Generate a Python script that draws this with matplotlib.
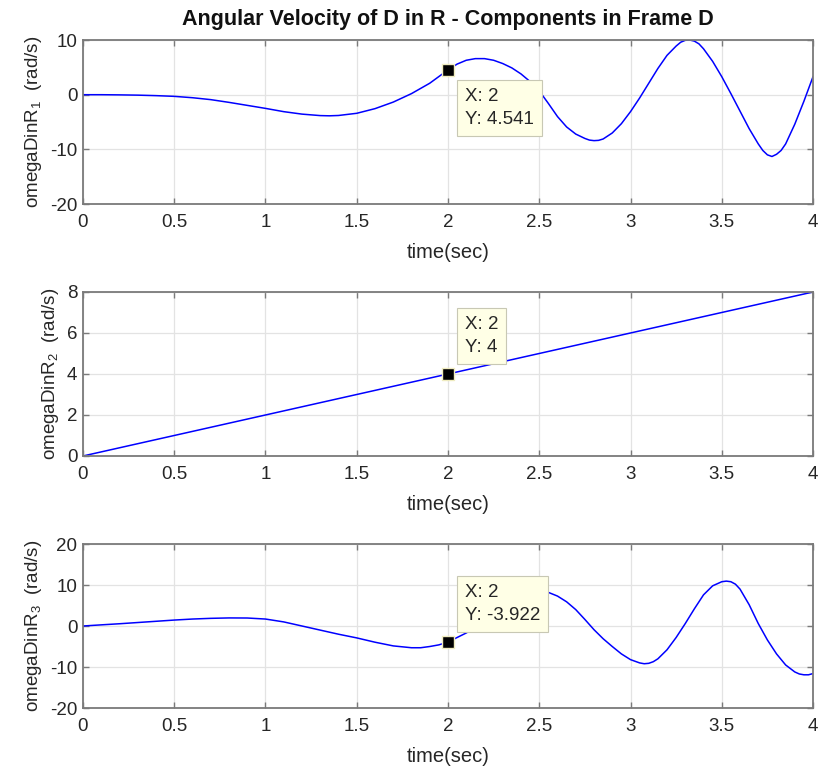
import matplotlib

matplotlib.use("Agg")

import matplotlib.pyplot as plt

plt.rcParams["font.family"] = ["Liberation Sans", "DejaVu Sans"]
plt.rcParams["axes.unicode_minus"] = False
plt.rcParams["mathtext.fontset"] = "custom"
plt.rcParams["mathtext.rm"] = "Liberation Sans"
plt.rcParams["mathtext.it"] = "Liberation Sans"

# time samples (s)
t1 = [0.0, 0.1, 0.2, 0.3, 0.4, 0.5, 0.6, 0.7, 0.8, 0.9, 1.0, 1.1, 1.2, 1.3, 1.35,
      1.4, 1.5, 1.6, 1.7, 1.8, 1.9, 2.0, 2.05, 2.1, 2.15, 2.2, 2.25, 2.3, 2.35,
      2.4, 2.45, 2.5, 2.55, 2.6, 2.65, 2.7, 2.75, 2.775, 2.8, 2.825, 2.85, 2.9,
      2.95, 3.0, 3.05, 3.1, 3.15, 3.2, 3.25, 3.275, 3.3, 3.325, 3.35, 3.375,
      3.4, 3.45, 3.5, 3.55, 3.6, 3.65, 3.7, 3.725, 3.75, 3.775, 3.8, 3.825,
      3.85, 3.9, 3.95, 4.0]
omega1 = [0.0, 0.0, -0.03, -0.08, -0.17, -0.3, -0.55, -0.9, -1.4, -1.95, -2.5,
          -3.1, -3.55, -3.82, -3.86, -3.8, -3.4, -2.55, -1.35, 0.2, 2.1, 4.541,
          5.6, 6.3, 6.6, 6.6, 6.3, 5.7, 4.9, 3.8, 2.4, 0.7, -1.6, -4.0, -5.9,
          -7.2, -8.0, -8.3, -8.4, -8.35, -8.1, -7.0, -5.3, -3.1, -0.6, 2.1, 4.8,
          7.2, 8.9, 9.6, 9.95, 10.0, 9.8, 9.3, 8.4, 6.1, 3.3, 0.2, -3.0, -6.2,
          -9.0, -10.2, -11.0, -11.3, -10.9, -10.2, -9.0, -5.4, -1.2, 3.3]

t2 = [0.0, 4.0]
omega2 = [0.0, 8.0]

t3 = [0.0, 0.1, 0.2, 0.3, 0.4, 0.5, 0.6, 0.7, 0.8, 0.9, 1.0, 1.1, 1.2, 1.3,
      1.4, 1.5, 1.6, 1.7, 1.8, 1.85, 1.9, 1.95, 2.0, 2.05, 2.1, 2.15, 2.2,
      2.25, 2.3, 2.35, 2.4, 2.45, 2.5, 2.55, 2.6, 2.65, 2.7, 2.75, 2.8, 2.85,
      2.9, 2.95, 3.0, 3.05, 3.075, 3.1, 3.125, 3.15, 3.2, 3.25, 3.3, 3.35, 3.4,
      3.45, 3.5, 3.525, 3.55, 3.575, 3.6, 3.65, 3.7, 3.75, 3.8, 3.85, 3.9,
      3.925, 3.95, 3.975, 4.0]
omega3 = [0.0, 0.28, 0.55, 0.85, 1.15, 1.45, 1.7, 1.87, 1.97, 1.95, 1.7, 1.0,
          0.0, -1.0, -2.0, -2.9, -3.95, -4.85, -5.3, -5.3, -5.0, -4.6, -3.922,
          -2.8, -1.7, -0.4, 1.0, 2.5, 3.9, 5.2, 6.4, 7.5, 8.2, 8.2, 7.3, 5.9,
          4.0, 1.6, -0.9, -3.1, -5.0, -6.8, -8.2, -9.0, -9.2, -9.1, -8.7, -8.0,
          -5.8, -2.8, 0.6, 4.2, 7.6, 9.8, 10.8, 10.95, 10.8, 10.2, 9.0, 5.2,
          0.6, -3.4, -6.8, -9.5, -11.2, -11.7, -11.9, -11.9, -11.6]

series = [(t1, omega1), (t2, omega2), (t3, omega3)]
y_limits = [(-20, 10), (0, 8), (-20, 20)]
y_ticks = [[-20, -10, 0, 10], [0, 2, 4, 6, 8], [-20, -10, 0, 10, 20]]
y_labels = ["omegaDinR$_{1}$  (rad/s)", "omegaDinR$_{2}$  (rad/s)",
            "omegaDinR$_{3}$  (rad/s)"]
x_ticks = [0, 0.5, 1, 1.5, 2, 2.5, 3, 3.5, 4]
x_tick_labels = ["0", "0.5", "1", "1.5", "2", "2.5", "3", "3.5", "4"]
tip_x = 2
tip_y = [4.541, 4, -3.922]
tip_text = ["X: 2\nY: 4.541", "X: 2\nY: 4", "X: 2\nY: -3.922"]
# text offsets of the datatips (pixels) and their anchor side
tip_offset = [(17, -18, "top"), (17, 18, "bottom"), (17, 18, "bottom")]

figure = plt.figure(figsize=(8.19, 7.70), dpi=100)
rects = [
    (0.1013, 0.735, 0.8914, 0.213),
    (0.1013, 0.4078, 0.8914, 0.213),
    (0.1013, 0.0805, 0.8914, 0.213),
]
frame_color = "#7a7a7a"

for index, rect in enumerate(rects):
    axis = figure.add_axes(rect)
    t_values, y_values = series[index]
    axis.plot(t_values, y_values, color="#0000ff", linewidth=1.1)
    axis.set_xlim(0, 4)
    axis.set_ylim(*y_limits[index])
    axis.set_xticks(x_ticks)
    axis.set_xticklabels(x_tick_labels)
    axis.set_yticks(y_ticks[index])
    axis.grid(True, color="#e3e3e3", linewidth=0.9)
    axis.set_axisbelow(True)
    axis.tick_params(
        direction="in", top=True, right=True, length=4, width=1,
        color=frame_color, labelsize=13.5, labelcolor="#262626",
    )
    axis.tick_params(axis="x", pad=7)
    axis.tick_params(axis="y", pad=4)
    for spine in axis.spines.values():
        spine.set_color(frame_color)
        spine.set_linewidth(1.3)
    axis.set_xlabel("time(sec)", fontsize=14.5, color="#262626", labelpad=9)
    axis.set_ylabel(y_labels[index], fontsize=13.5, color="#262626", labelpad=4)

    axis.plot(
        [tip_x], [tip_y[index]], marker="s", markersize=9,
        markerfacecolor="black", markeredgecolor="#f0ecc0",
        markeredgewidth=1.0, linestyle="None", zorder=7,
    )
    dx, dy, side = tip_offset[index]
    axis.annotate(
        tip_text[index],
        xy=(tip_x, tip_y[index]),
        xytext=(dx, dy),
        textcoords="offset pixels",
        ha="left",
        va=side,
        fontsize=13.5,
        color="#262626",
        linespacing=1.45,
        zorder=6,
        bbox=dict(boxstyle="square,pad=0.42", facecolor="#ffffe6",
                  edgecolor="#c8c8b4", linewidth=0.8),
    )
    if index == 0:
        axis.set_title(
            "Angular Velocity of D in R - Components in Frame D",
            fontsize=15.5, fontweight="bold", color="#111111", pad=11,
        )

figure.savefig("out.png", dpi=100)
plt.close(figure)
